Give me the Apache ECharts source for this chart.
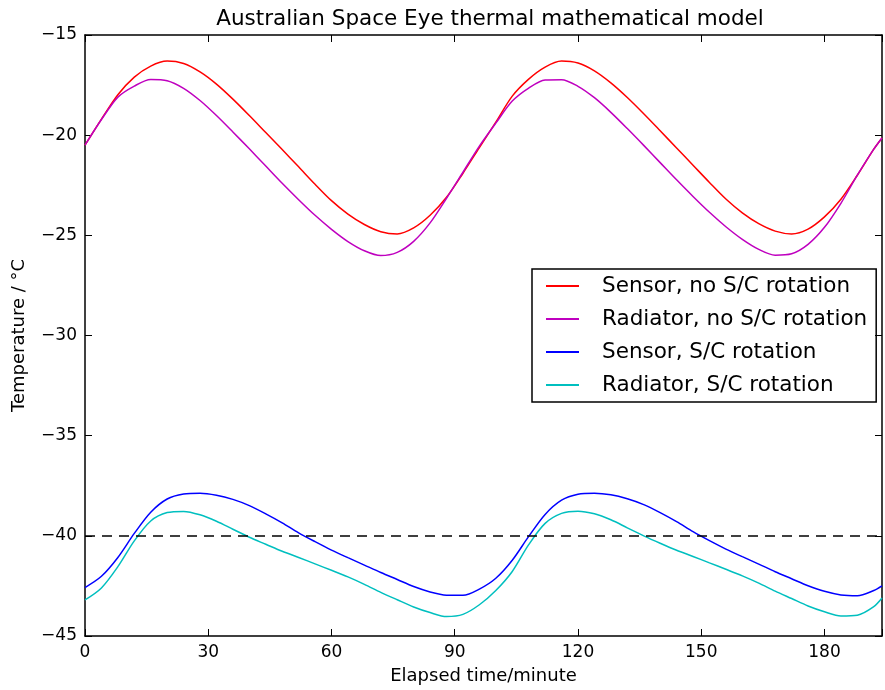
<!DOCTYPE html>
<html lang="en" style="height: 100%">
<head>
  <meta charset="utf-8">
</head>
<body style="height: 100%; margin: 0">
  <div id="container" style="height: 100%"></div>

  <script type="text/javascript" src="https://fastly.jsdelivr.net/npm/echarts@6/dist/echarts.min.js"></script>

  <script type="text/javascript">
    const minutes = [0, 4, 8, 12, 16, 20, 24, 28, 32, 36, 40, 44, 48, 52, 56, 60, 64, 68, 72, 76, 80, 84, 88, 92, 96,
      100, 104, 108, 112, 116, 120, 124, 128, 132, 136, 140, 144, 148, 152, 156, 160, 164, 168, 172, 176, 180, 184, 188, 192, 194];

    const sensorNoRot = [-20.5, -19.2, -17.98, -17.1, -16.55, -16.3, -16.42, -16.84, -17.45, -18.2, -19.02, -19.87, -20.72, -21.58, -22.45, -23.27, -23.94, -24.46, -24.82, -24.93,
      -24.63, -24.0, -23.1, -21.9, -20.62, -19.35, -18.05, -17.2, -16.6, -16.3, -16.4, -16.79, -17.39, -18.12, -18.93, -19.78, -20.64, -21.5, -22.36, -23.19,
      -23.88, -24.42, -24.79, -24.93, -24.69, -24.08, -23.2, -22.0, -20.7, -20.14];

    const radiatorNoRot = [-20.5, -19.22, -18.1, -17.55, -17.22, -17.28, -17.66, -18.27, -19.02, -19.84, -20.68, -21.54, -22.4, -23.22, -24.0, -24.7, -25.31, -25.77, -26.01, -25.85,
      -25.3, -24.38, -23.15, -21.85, -20.55, -19.4, -18.3, -17.65, -17.25, -17.23, -17.56, -18.13, -18.86, -19.67, -20.51, -21.37, -22.23, -23.06, -23.85, -24.57,
      -25.2, -25.7, -25.99, -25.92, -25.45, -24.6, -23.4, -22.0, -20.7, -20.14];

    const sensorRot = [-42.58, -42.02, -41.08, -39.88, -38.82, -38.16, -37.91, -37.87, -37.97, -38.18, -38.49, -38.9, -39.35, -39.85, -40.29, -40.71, -41.09, -41.46, -41.83, -42.18,
      -42.53, -42.8, -42.96, -42.97, -42.66, -42.12, -41.22, -40.03, -38.93, -38.22, -37.92, -37.87, -37.95, -38.15, -38.44, -38.84, -39.29, -39.79, -40.24, -40.66,
      -41.04, -41.41, -41.79, -42.14, -42.49, -42.77, -42.95, -42.99, -42.73, -42.5];

    const radiatorRot = [-43.2, -42.6, -41.54, -40.25, -39.26, -38.84, -38.78, -38.95, -39.27, -39.67, -40.07, -40.42, -40.77, -41.08, -41.4, -41.72, -42.05, -42.42, -42.82, -43.19,
      -43.55, -43.83, -44.03, -43.92, -43.44, -42.73, -41.78, -40.44, -39.38, -38.88, -38.77, -38.9, -39.2, -39.6, -40.0, -40.37, -40.72, -41.03, -41.35, -41.67,
      -42.0, -42.36, -42.76, -43.13, -43.5, -43.79, -44.0, -43.96, -43.53, -43.1];

    const limitTemp = -40;

    const names = ['Sensor, no S/C rotation', 'Radiator, no S/C rotation', 'Sensor, S/C rotation', 'Radiator, S/C rotation'];
    const colors = ['#ff0000', '#bf00bf', '#0000ff', '#00bfbf'];
    const values = [sensorNoRot, radiatorNoRot, sensorRot, radiatorRot];

    const font = 'DejaVu Sans';
    const minus = v => (v < 0 ? '\u2212' : '') + Math.abs(v);

    var dom = document.getElementById('container');
    var myChart = echarts.init(dom, null, { renderer: 'canvas' });

    const axisLine = { show: true, onZero: false, lineStyle: { color: '#000', width: 1.5 } };
    const tick = { show: true, inside: true, length: 7, lineStyle: { color: '#000', width: 1 } };

    var series = values.map((v, i) => ({
      name: names[i],
      type: 'line',
      smooth: 0.3,
      symbol: 'none',
      lineStyle: { color: colors[i], width: 1.5 },
      itemStyle: { color: colors[i] },
      data: minutes.map((m, j) => [m, v[j]])
    }));

    series[0].markLine = {
      silent: true,
      symbol: 'none',
      label: { show: false },
      lineStyle: { color: '#000', type: [10, 7], width: 1.5 },
      data: [{ yAxis: limitTemp }]
    };

    var option = {
      animation: false,
      title: {
        text: 'Australian Space Eye thermal mathematical model',
        left: 485,
        textAlign: 'center',
        top: 3,
        textStyle: { fontFamily: font, fontSize: 21.5, fontWeight: 'normal', color: '#000' }
      },
      legend: {
        orient: 'vertical',
        left: 532,
        top: 269,
        padding: [6, 9, 6, 14],
        itemGap: 11,
        itemWidth: 33,
        itemHeight: 2,
        icon: 'rect',
        borderColor: '#000',
        borderWidth: 1.5,
        borderRadius: 0,
        textStyle: { fontFamily: font, fontSize: 21.5, color: '#000', lineHeight: 21, padding: [0, 0, 0, 18] },
        data: names
      },
      grid: { left: 85, right: 1, top: 35, bottom: 53 },
      xAxis: [
        {
          type: 'value', min: 0, max: 194, interval: 30,
          name: 'Elapsed time/minute', nameLocation: 'middle', nameGap: 31,
          nameTextStyle: { fontFamily: font, fontSize: 18, color: '#000' },
          axisLine: axisLine, axisTick: tick, splitLine: { show: false },
          axisLabel: {
            fontFamily: font, fontSize: 17, color: '#000', margin: 8,
            formatter: v => (v % 30 === 0 ? String(v) : '')
          }
        },
        {
          type: 'value', position: 'top', min: 0, max: 194, interval: 30,
          axisLine: axisLine, axisTick: tick, splitLine: { show: false }, axisLabel: { show: false }
        }
      ],
      yAxis: [
        {
          type: 'value', min: -45, max: -15, interval: 5,
          name: 'Temperature / °C', nameLocation: 'middle', nameGap: 57,
          nameTextStyle: { fontFamily: font, fontSize: 18, color: '#000' },
          axisLine: axisLine, axisTick: tick, splitLine: { show: false },
          axisLabel: { fontFamily: font, fontSize: 17, color: '#000', margin: 8, formatter: minus }
        },
        {
          type: 'value', position: 'right', min: -45, max: -15, interval: 5,
          axisLine: axisLine, axisTick: tick, splitLine: { show: false }, axisLabel: { show: false }
        }
      ],
      series: series
    };

    myChart.setOption(option);
    window.addEventListener('resize', myChart.resize);
  </script>
</body>
</html>
